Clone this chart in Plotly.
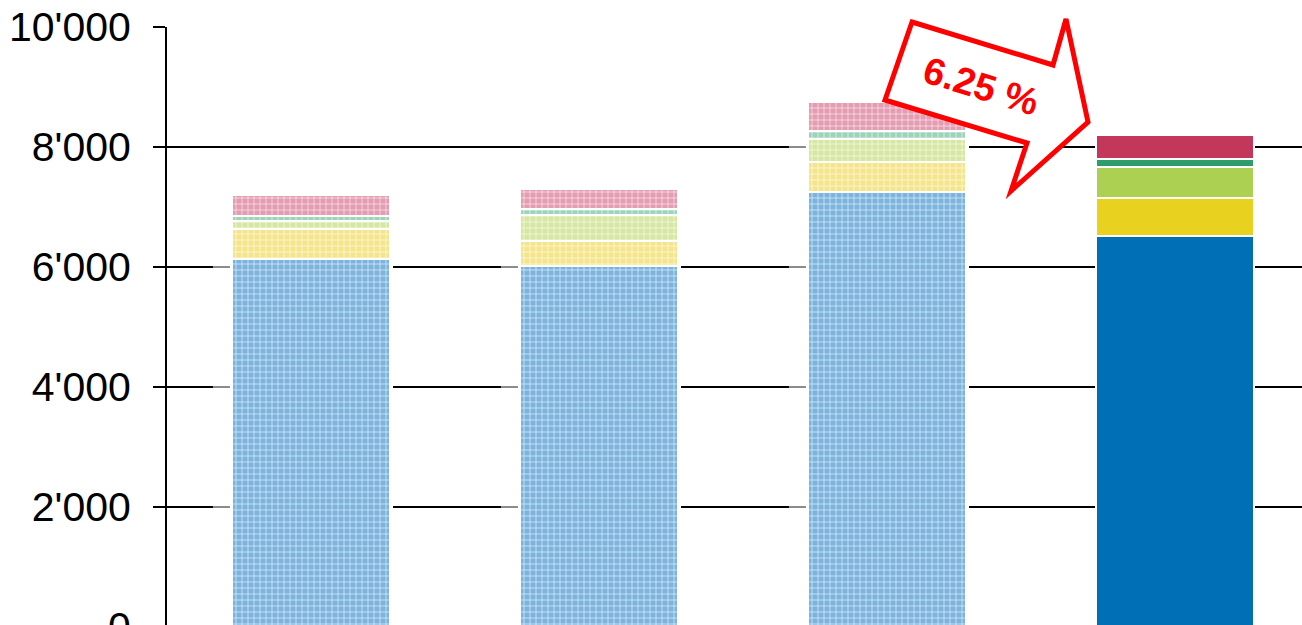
import plotly.graph_objects as go

# ---- data ----
periods = ["P1", "P2", "P3", "P4"]
seg_blue = [6138, 6010, 7247, 6510]
seg_yellow = [497, 428, 496, 632]
seg_lightgreen = [137, 435, 392, 526]
seg_teal = [71, 95, 133, 137]
seg_pink = [350, 332, 482, 388]
y_ticks = [0, 2000, 4000, 6000, 8000, 10000]
change_label = "6.25 %"

# ---- styles ----
W, H = 1302, 628
L, R, T, B = 167, 0, 27, 0
BAR_W = 0.549

series = [
    ("blue", seg_blue, "#7cb4de", "#006fb6"),
    ("yellow", seg_yellow, "#f4e58b", "#e9d21f"),
    ("lightgreen", seg_lightgreen, "#d6e7a2", "#abd052"),
    ("teal", seg_teal, "#9dd3b9", "#2f9c6e"),
    ("pink", seg_pink, "#e39cb1", "#c3385a"),
]

xs = list(range(len(periods)))
fig = go.Figure()
for name, vals, light, solid in series:
    # earlier periods: hatched, lighter tone
    fig.add_trace(go.Bar(
        x=xs[:-1], y=vals[:-1], name=name, width=BAR_W,
        marker=dict(
            color=light,
            line=dict(color="white", width=2),
            pattern=dict(shape="+", fillmode="overlay",
                         fgcolor="white", fgopacity=1,
                         size=6, solidity=0.17),
        ),
        hoverinfo="skip",
    ))
    # latest period: solid colour
    fig.add_trace(go.Bar(
        x=xs[-1:], y=vals[-1:], name=name, width=BAR_W,
        marker=dict(color=solid, line=dict(color="white", width=2)),
        hoverinfo="skip",
    ))

fig.update_layout(
    width=W, height=H,
    margin=dict(l=L, r=R, t=T, b=B, autoexpand=False),
    barmode="stack",
    showlegend=False,
    plot_bgcolor="white", paper_bgcolor="white",
    separators=".'",
    font=dict(family="Liberation Sans, Arial, sans-serif", color="black"),
)
fig.update_xaxes(range=[-0.5, 3.441], showticklabels=False, showgrid=False,
                 zeroline=False, ticks="", tickvals=xs,
                 ticktext=periods, automargin=False)
fig.update_yaxes(range=[-17, 10000], tickvals=y_ticks, tickformat=",",
                 showgrid=True, gridcolor="black", gridwidth=2,
                 showline=True, linecolor="black", linewidth=2,
                 ticks="outside", ticklen=12, tickwidth=2, tickcolor="black",
                 ticklabelstandoff=14, ticklabeloverflow="allow",
                 automargin=False,
                 tickfont=dict(size=41, color="black"), zeroline=False)

# faint halo that interrupts gridlines beside the hatched bars
totals = [sum(v) for v in zip(seg_blue, seg_yellow, seg_lightgreen, seg_teal, seg_pink)]
unit_px = (W - L - R) / 3.941
for i, tot in enumerate(totals[:-1]):
    left = i - BAR_W / 2
    right = i + BAR_W / 2
    fig.add_shape(type="rect", xref="x", yref="y", layer="between",
                  x0=left - 19 / unit_px, x1=left, y0=-17, y1=tot,
                  fillcolor="rgba(255,255,255,0.55)", line=dict(width=0))
    fig.add_shape(type="rect", xref="x", yref="y", layer="between",
                  x0=left - 2 / unit_px, x1=left, y0=-17, y1=tot,
                  fillcolor="white", line=dict(width=0))
    fig.add_shape(type="rect", xref="x", yref="y", layer="between",
                  x0=right, x1=right + 3 / unit_px, y0=-17, y1=tot,
                  fillcolor="white", line=dict(width=0))

# ---- arrow callout (pixel geometry converted to paper coords) ----
def px(xp, yp):
    return (xp - L) / (W - L - R), (H - B - yp) / (H - T - B)

arrow_px = [(912, 22), (1053, 65), (1066, 19), (1088, 122), (1011, 191),
            (1027, 143), (885, 100)]
pts = [px(a, b) for a, b in arrow_px]
path = "M " + " L ".join(f"{a:.5f},{b:.5f}" for a, b in pts) + " Z"
fig.add_shape(type="path", path=path, xref="paper", yref="paper",
              line=dict(color="#ff0000", width=5), fillcolor="white",
              layer="above")
tx, ty = px(981, 86)
fig.add_annotation(x=tx, y=ty, xref="paper", yref="paper",
                   xanchor="center", yanchor="middle",
                   text=f"<b>{change_label}</b>", showarrow=False,
                   textangle=17,
                   font=dict(size=38, color="#ff0000",
                             family="Liberation Sans, Arial, sans-serif"))

fig.write_html(
    "out.html",
    config={"displayModeBar": False},
    post_script="document.body.style.margin='0px';"
                "document.body.style.overflow='hidden';",
)
